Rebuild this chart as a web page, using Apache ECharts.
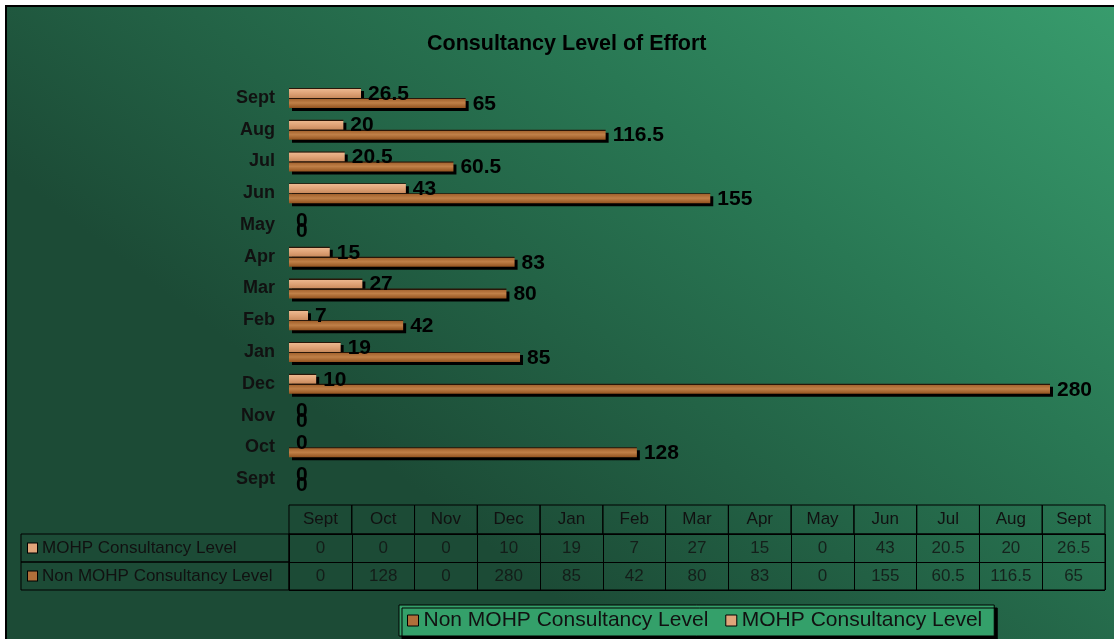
<!DOCTYPE html>
<html style="height: 100%">
<head>
<meta charset="utf-8">
<script src="https://cdn.jsdelivr.net/npm/echarts@6/dist/echarts.min.js"></script>
</head>
<body style="height: 100%; margin: 0; background: #fff;">
<div id="container" style="width: 1114px; height: 639px"></div>
<script type="text/javascript">

var months = ['Sept', 'Oct', 'Nov', 'Dec', 'Jan', 'Feb', 'Mar', 'Apr', 'May', 'Jun', 'Jul', 'Aug', 'Sept'];
var mohp = [0, 0, 0, 10, 19, 7, 27, 15, 0, 43, 20.5, 20, 26.5];
var nonMohp = [0, 128, 0, 280, 85, 42, 80, 83, 0, 155, 60.5, 116.5, 65];
var seriesNames = ['MOHP Consultancy Level', 'Non MOHP Consultancy Level'];

var font = '"Liberation Sans", Arial, sans-serif';
var lightColor = '#e0a57a';
var darkColor = '#b06f3a';

// wood-ish fills, dark first stop stands in for the top outline
var lightFill = new echarts.graphic.LinearGradient(0, 0, 0, 1, [
        {offset: 0, color: '#2a1608'},
        {offset: 0.1, color: '#2a1608'},
        {offset: 0.12, color: '#ecb78e'},
        {offset: 0.55, color: '#dfa276'},
        {offset: 1, color: '#c98a5c'}
]);
var darkFill = new echarts.graphic.LinearGradient(0, 0, 0, 1, [
        {offset: 0, color: '#2a1608'},
        {offset: 0.1, color: '#2a1608'},
        {offset: 0.12, color: '#a5642f'},
        {offset: 0.5, color: '#c08048'},
        {offset: 1, color: '#93531f'}
]);

function barSeries(name, values, fill) {
        // zero bars: no shadow, only the "0" label
        var data = values.map(function (v) {
                if (v === 0) {
                        return {value: v, itemStyle: {shadowColor: 'rgba(0,0,0,0)'}};
                }
                return v;
        });
        return {
                name: name,
                type: 'bar',
                data: data,
                barWidth: 10,
                barGap: '0%',
                itemStyle: {
                        color: fill,
                        borderWidth: 0,
                        shadowColor: '#000',
                        shadowOffsetX: 3,
                        shadowOffsetY: 3,
                        shadowBlur: 0
                },
                label: {
                        show: true,
                        position: 'right',
                        distance: 7,
                        fontSize: 21,
                        fontWeight: 'bold',
                        color: '#000',
                        fontFamily: font,
                        offset: [0, 1]
                }
        };
}

// table cells
var cells = [];
for (var i = 0; i < months.length; i++) {
        cells.push([i, 0, mohp[i]]);
        cells.push([i, 1, nonMohp[i]]);
}

var dom = document.getElementById('container');
var myChart = echarts.init(dom);

var option = {
        animation: false,
        graphic: [{
                type: 'rect',
                z: -10,
                shape: {x: 6, y: 6, width: 1112, height: 640},
                style: {
                        fill: new echarts.graphic.LinearGradient(1, 0, 0.55, 1, [
                                {offset: 0, color: '#389c6d'},
                                {offset: 0.45, color: '#297854'},
                                {offset: 1, color: '#1c4b36'}
                        ]),
                        stroke: '#000',
                        lineWidth: 2
                }
        }],
        title: {
                text: 'Consultancy Level of Effort',
                left: 422,
                top: 28,
                textStyle: {fontSize: 21.5, fontWeight: 'bold', color: '#000', fontFamily: font}
        },
        legend: {
                data: [
                        {name: seriesNames[1], itemStyle: {color: darkColor}},
                        {name: seriesNames[0], itemStyle: {color: lightColor}}
                ],
                selectedMode: false,
                left: 399,
                top: 605,
                padding: [5, 12, 5, 8],
                itemWidth: 11,
                itemHeight: 11,
                itemGap: 17,
                icon: 'rect',
                backgroundColor: '#34a06a',
                borderColor: '#000',
                borderWidth: 1,
                shadowColor: '#000',
                shadowOffsetX: 3,
                shadowOffsetY: 3,
                shadowBlur: 0,
                itemStyle: {borderColor: '#000', borderWidth: 1, shadowColor: 'rgba(0,0,0,0)', shadowOffsetX: 0, shadowOffsetY: 0},
                textStyle: {fontSize: 21, color: '#111', fontFamily: font}
        },
        grid: [
                {left: 289, right: 64, top: 82, bottom: 144},
                {left: 289, right: 9, top: 534, bottom: 49, show: true, borderColor: '#000', borderWidth: 1, backgroundColor: 'transparent'}
        ],
        xAxis: [
                {type: 'value', min: 0, max: 280, show: false},
                {
                        gridIndex: 1,
                        type: 'category',
                        data: months,
                        position: 'top',
                        axisLine: {show: true, lineStyle: {color: '#000'}},
                        axisTick: {show: false},
                        splitLine: {show: true, interval: 0, lineStyle: {color: '#000', width: 1}},
                        axisLabel: {
                                interval: 0,
                                margin: 0,
                                color: '#111',
                                fontSize: 17,
                                fontFamily: font,
                                width: 62.77,
                                lineHeight: 29,
                                align: 'center',
                                borderColor: '#000',
                                borderWidth: 1
                        }
                }
        ],
        yAxis: [
                {
                        type: 'category',
                        data: months,
                        axisLine: {show: false},
                        axisTick: {show: false},
                        axisLabel: {margin: 14, fontSize: 18, fontWeight: 'bold', color: '#111', fontFamily: font}
                },
                {
                        gridIndex: 1,
                        type: 'category',
                        data: seriesNames,
                        inverse: true,
                        axisLine: {show: true, lineStyle: {color: '#000'}},
                        axisTick: {show: false},
                        splitLine: {show: true, interval: 0, lineStyle: {color: '#000', width: 1}},
                        axisLabel: {
                                interval: 0,
                                margin: 268,
                                align: 'left',
                                width: 261,
                                lineHeight: 28,
                                borderColor: '#000',
                                borderWidth: 1,
                                padding: [0, 0, 0, 7],
                                formatter: function (v, idx) {
                                        return '{' + (idx === 0 ? 'a' : 'b') + '|}{s|}{t|' + v + '}';
                                },
                                rich: {
                                        a: {width: 9, height: 9, backgroundColor: lightColor, borderColor: '#000', borderWidth: 1},
                                        b: {width: 9, height: 9, backgroundColor: darkColor, borderColor: '#000', borderWidth: 1},
                                        s: {width: 5},
                                        t: {lineHeight: 28, fontSize: 17, color: '#111', fontFamily: font}
                                }
                        }
                }
        ],
        series: [
                barSeries(seriesNames[0], mohp, lightFill),
                barSeries(seriesNames[1], nonMohp, darkFill),
                {
                        type: 'scatter',
                        xAxisIndex: 1,
                        yAxisIndex: 1,
                        data: cells,
                        symbolSize: 1,
                        silent: true,
                        itemStyle: {color: 'rgba(0,0,0,0)'},
                        label: {
                                show: true,
                                position: 'inside',
                                formatter: function (p) { return p.value[2]; },
                                fontSize: 17,
                                color: '#111',
                                fontFamily: font
                        }
                }
        ]
};

myChart.setOption(option);

</script>
</body>
</html>
